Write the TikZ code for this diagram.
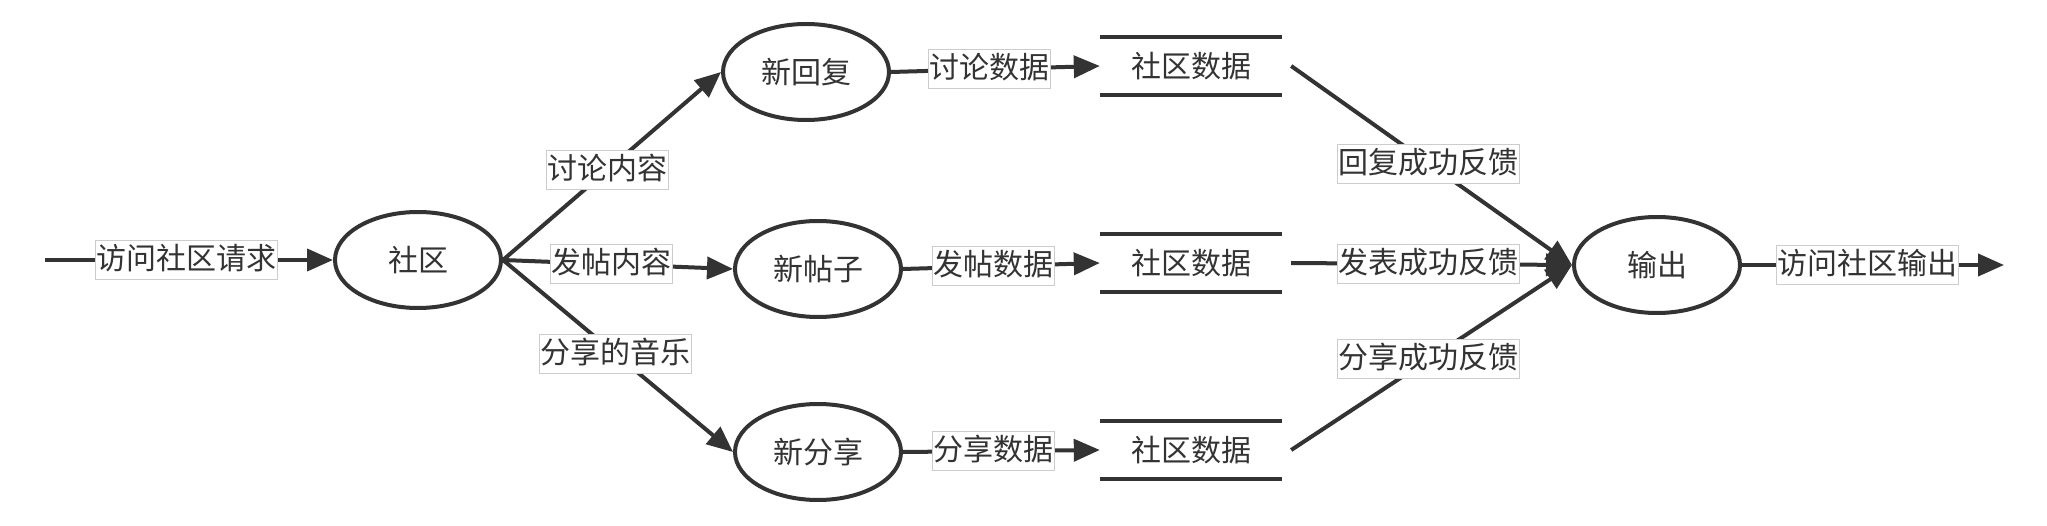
\documentclass[tikz,border=0pt]{standalone}
\usepackage{fontspec}
\newfontfamily\cjk{Noto Sans CJK SC}
\usetikzlibrary{arrows.meta,shapes.geometric}
\definecolor{ink}{HTML}{333333}
\definecolor{lblframe}{HTML}{CCCCCC}
\begin{document}
\begin{tikzpicture}[x=1pt,y=-1pt,
  txt/.style={font=\cjk\fontsize{30}{30}\selectfont, text=ink},
  proc/.style={txt, ellipse, draw=ink, line width=4pt, minimum width=166pt, minimum height=96pt, inner sep=0pt},
  store/.style={txt, minimum width=182pt, minimum height=57pt, inner sep=0pt},
  storeline/.style={draw=ink, line width=4pt},
  flow/.style={draw=ink, line width=4pt, -{Triangle[length=26pt,width=22pt]}},
  lbl/.style={txt, fill=white, draw=lblframe, line width=1pt, inner xsep=1pt, inner ysep=4pt, text height=25pt, text depth=6pt}
]
\fill[white] (0,0) rectangle (2047,526);
\useasboundingbox (0,0) rectangle (2047,526);

\node[proc] (shequ) at (418,260) {社区};
\node[proc] (huifu) at (806,72) {新回复};
\node[proc] (tiezi) at (818,269) {新帖子};
\node[proc] (fenxiang) at (818,452) {新分享};
\node[proc] (shuchu) at (1657,265) {输出};

\node[store] (s1) at (1191,66) {社区数据};
\node[store] (s2) at (1191,263) {社区数据};
\node[store] (s3) at (1191,450) {社区数据};
\foreach \s in {s1,s2,s3}{
  \draw[storeline] (\s.north west) -- (\s.north east);
  \draw[storeline] (\s.south west) -- (\s.south east);
}

\coordinate (start) at (45,260);
\coordinate (finish) at (2004,265);

\draw[flow] (start) -- node[lbl,pos=0.49]{访问社区请求} (shequ.west);
\draw[flow] (shequ.east) -- node[lbl,pos=0.48]{讨论内容} (huifu.west);
\draw[flow] (shequ.east) -- node[lbl,pos=0.47]{发帖内容} (tiezi.west);
\draw[flow] (shequ.east) -- node[lbl,pos=0.49]{分享的音乐} (fenxiang.west);

\draw[flow] (huifu.east) -- node[lbl,pos=0.47]{讨论数据} (s1.west);
\draw[flow] (tiezi.east) -- node[lbl,pos=0.46]{发帖数据} (s2.west);
\draw[flow] (fenxiang.east) -- node[lbl,pos=0.46]{分享数据} (s3.west);

\draw[flow] ([xshift=9pt]s1.east) -- node[lbl,pos=0.49]{回复成功反馈} (shuchu.west);
\draw[flow] ([xshift=9pt]s2.east) -- node[lbl,pos=0.49]{发表成功反馈} (shuchu.west);
\draw[flow] ([xshift=9pt]s3.east) -- node[lbl,pos=0.49]{分享成功反馈} (shuchu.west);

\draw[flow] (shuchu.east) -- node[lbl,pos=0.48]{访问社区输出} (finish);
\end{tikzpicture}
\end{document}
